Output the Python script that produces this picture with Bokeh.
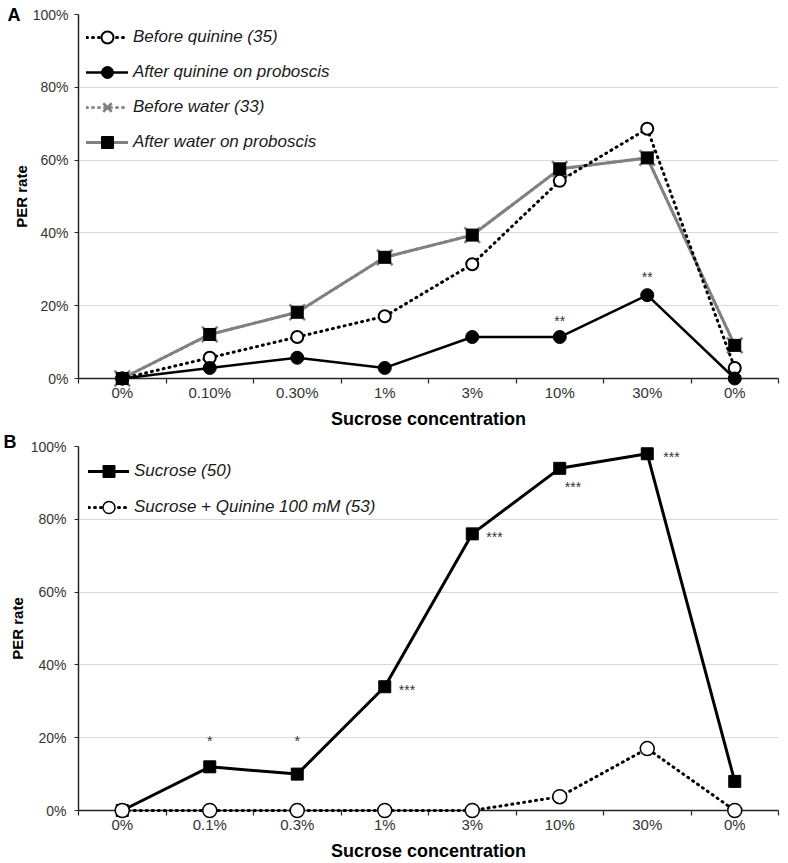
from bokeh.plotting import figure
from bokeh.models import FixedTicker, Legend, LegendItem, Range1d
from bokeh.layouts import column
from bokeh.embed import file_html
from bokeh.resources import INLINE
from bokeh.core.properties import value

# ---------------- data ----------------
cats_a = ["0%", "0.10%", "0.30%", "1%", "3%", "10%", "30%", "0%"]
cats_b = ["0%", "0.1%", "0.3%", "1%", "3%", "10%", "30%", "0%"]
y_ticks = [0, 20, 40, 60, 80, 100]
y_tick_labels = ["0%", "20%", "40%", "60%", "80%", "100%"]

before_quinine = [0, 5.7, 11.4, 17.1, 31.4, 54.3, 68.6, 2.9]
after_quinine = [0, 2.9, 5.7, 2.9, 11.4, 11.4, 22.9, 0]
before_water = [0, 12.1, 18.2, 33.3, 39.4, 57.6, 60.6, 9.1]
after_water = [0, 12.1, 18.2, 33.3, 39.4, 57.6, 60.6, 9.1]

sucrose = [0, 12, 10, 34, 76, 94, 98, 8]
sucrose_quinine = [0, 0, 0, 0, 0, 3.8, 17.0, 0]

# significance marks (category index, height in %, text)
stars_a_idx = [5, 6]
stars_a_y = [16.7, 28.7]
stars_a_txt = ["**", "**"]

stars_b_c_idx = [1, 2]
stars_b_c_y = [19.8, 19.8]
stars_b_c_txt = ["*", "*"]

stars_b_r_idx = [3, 4, 5, 6]
stars_b_r_y = [34, 76, 89.8, 98]
stars_b_r_txt = ["***", "***", "***", "***"]
stars_b_r_dx = [14, 14, 5, 16]

FONT = "Liberation Sans"
TICK_COL = "#333333"
AX_COL = "#262626"
STAR_COL = "#333333"
FIG_W = 786


def pos(idx):
    return [i + 0.5 for i in idx]


def base_fig(height, left, top, bottom, right, cats, ylab_standoff, ytick_standoff):
    n = len(cats)
    p = figure(width=FIG_W, height=height, output_backend="svg", toolbar_location=None,
               x_range=Range1d(0, n), y_range=Range1d(0, 100),
               min_border_left=left, min_border_right=right,
               min_border_top=top, min_border_bottom=bottom)
    p.outline_line_color = None
    p.xgrid.visible = False
    p.ygrid.ticker = FixedTicker(ticks=y_ticks)
    p.ygrid.grid_line_color = "#d9d9d9"
    p.ygrid.grid_line_width = 1

    centers = pos(range(n))
    xa = p.xaxis[0]
    xa.ticker = FixedTicker(ticks=centers, minor_ticks=list(range(n + 1)))
    xa.major_label_overrides = {c: lab for c, lab in zip(centers, cats)}
    xa.major_tick_out = 0
    xa.major_tick_in = 0
    xa.minor_tick_out = 5
    xa.minor_tick_in = 0
    xa.minor_tick_line_color = AX_COL
    xa.minor_tick_line_width = 1.2
    xa.axis_line_color = AX_COL
    xa.axis_line_width = 1.5
    xa.major_label_standoff = 0
    xa.major_label_text_font = FONT
    xa.major_label_text_font_size = "15px"
    xa.major_label_text_color = TICK_COL
    xa.axis_label = "Sucrose concentration"
    xa.axis_label_text_font = FONT
    xa.axis_label_text_font_size = "18px"
    xa.axis_label_text_font_style = "bold"
    xa.axis_label_text_color = "black"
    xa.axis_label_standoff = 5

    ya = p.yaxis[0]
    ya.ticker = FixedTicker(ticks=y_ticks)
    ya.major_label_overrides = {t: lab for t, lab in zip(y_ticks, y_tick_labels)}
    ya.minor_tick_line_color = None
    ya.major_tick_out = 4
    ya.major_tick_in = 0
    ya.major_tick_line_color = AX_COL
    ya.axis_line_color = AX_COL
    ya.axis_line_width = 1.5
    ya.major_label_standoff = ytick_standoff
    ya.major_label_text_font = FONT
    ya.major_label_text_font_size = "14px"
    ya.major_label_text_color = TICK_COL
    ya.axis_label = "PER rate"
    ya.axis_label_text_font = FONT
    ya.axis_label_text_font_size = "15px"
    ya.axis_label_text_font_style = "bold"
    ya.axis_label_text_color = "black"
    ya.axis_label_standoff = ylab_standoff
    return p


def series(p, vals, color, width, dash, marker, msize, fill, mline, mwidth):
    x = pos(range(len(vals)))
    ln = p.line(x, vals, line_color=color, line_width=width, line_dash=dash,
                line_cap="round", level="overlay")
    sc = p.scatter(x, vals, marker=marker, size=msize, fill_color=fill,
                   line_color=mline, line_width=mwidth, level="overlay")
    return [ln, sc]


def legend(p, items, margin, padding, spacing, gw):
    lg = Legend(items=[LegendItem(label=l, renderers=r) for l, r in items],
                location="top_left", margin=margin, padding=padding, spacing=spacing,
                glyph_width=gw, glyph_height=30, label_standoff=5,
                label_text_font=FONT, label_text_font_size="17px",
                label_text_font_style="italic", label_text_color="#1a1a1a",
                border_line_color=None, background_fill_alpha=0)
    p.add_layout(lg)


def stars(p, idx, ys, txt, align, dx):
    p.text(x=pos(idx), y=ys, text=txt, text_font=value(FONT), text_font_size="14px",
           text_align=align, text_baseline="middle", text_color=STAR_COL,
           x_offset=dx, y_offset=3)


def panel_letter(p, letter, x_off, y):
    p.text(x=[0], y=[y], text=[letter], x_offset=x_off, level="overlay",
           text_font=value(FONT), text_font_size="18px", text_font_style="bold",
           text_align="left", text_baseline="middle", text_color="black")


# ---------------- panel A ----------------
pa = base_fig(431, 74, 14, 53, 4, cats_a, 0, 6)
r_bw = series(pa, before_water, "#8c8c8c", 3, "1 5", "x", 22, None, "#7f7f7f", 2.5)
r_aw = series(pa, after_water, "#808080", 3, "solid", "square", 12, "black", "black", 1)
r_bq = series(pa, before_quinine, "black", 3, "1 5", "circle", 12, "white", "black", 2)
r_aq = series(pa, after_quinine, "black", 2.5, "solid", "circle", 13, "black", "black", 1)
legend(pa, [("Before quinine (35)", r_bq),
            ("After quinine on proboscis", r_aq),
            ("Before water (33)", r_bw),
            ("After water on proboscis", r_aw)], 8, 7, 5, 42)
stars(pa, stars_a_idx, stars_a_y, stars_a_txt, "center", 0)
panel_letter(pa, "A", -71, 100)

# ---------------- panel B ----------------
pb = base_fig(432, 78, 15, 53, 8, cats_b, 2, 8)
r_s = series(pb, sucrose, "black", 3, "solid", "square", 12, "black", "black", 1)
r_sq = series(pb, sucrose_quinine, "black", 3, "1 5", "circle", 14, "white", "black", 1.5)
legend(pb, [("Sucrose (50)", r_s),
            ("Sucrose + Quinine 100 mM (53)", r_sq)], 10, 7, 6, 41)
stars(pb, stars_b_c_idx, stars_b_c_y, stars_b_c_txt, "center", 0)
for i, yv, t, dx in zip(stars_b_r_idx, stars_b_r_y, stars_b_r_txt, stars_b_r_dx):
    stars(pb, [i], [yv], [t], "left", dx)
panel_letter(pb, "B", -75, 101.2)

layout = column(pa, pb, spacing=0)
open("out.html", "w").write(file_html(layout, INLINE))
